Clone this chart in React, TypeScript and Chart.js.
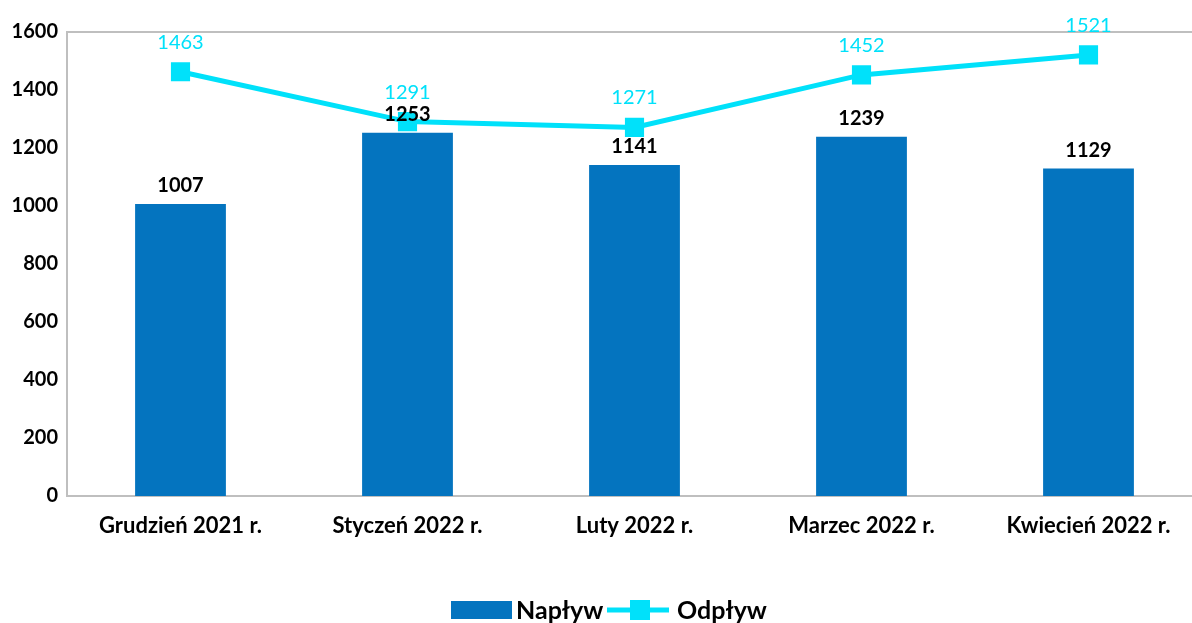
import React, { useEffect, useRef } from "react";
import { Chart, registerables } from "chart.js";

Chart.register(...registerables);

const categories = ["Grudzień 2021 r.", "Styczeń 2022 r.", "Luty 2022 r.", "Marzec 2022 r.", "Kwiecień 2022 r."];
const naplyw = [1007, 1253, 1141, 1239, 1129];
const odplyw = [1463, 1291, 1271, 1452, 1521];
const yTicks = [0, 200, 400, 600, 800, 1000, 1200, 1400, 1600];

const BAR = "#0474BF";
const LINE = "#00E1FA";
const FONT = "Lato, 'Noto Sans', sans-serif";

const labelsPlugin = {
  id: "customLabels",
  afterDraw(chart: any) {
    const ctx = chart.ctx;
    const area = chart.chartArea;
    ctx.save();
    // plot border (top line)
    ctx.strokeStyle = "#BFBFBF";
    ctx.lineWidth = 2;
    ctx.beginPath();
    ctx.moveTo(area.left, area.top);
    ctx.lineTo(area.right, area.top);
    ctx.stroke();

    ctx.textAlign = "center";
    ctx.textBaseline = "alphabetic";
    const barMeta = chart.getDatasetMeta(0);
    ctx.font = `bold 20px ${FONT}`;
    ctx.fillStyle = "#000000";
    barMeta.data.forEach((el: any, i: number) => {
      ctx.fillText(String(naplyw[i]), el.x, el.y - 12);
    });
    const lineMeta = chart.getDatasetMeta(1);
    ctx.font = `20px ${FONT}`;
    ctx.fillStyle = LINE;
    lineMeta.data.forEach((el: any, i: number) => {
      ctx.fillText(String(odplyw[i]), el.x, el.y - 23);
    });

    // legend
    const ly = 610;
    ctx.fillStyle = BAR;
    ctx.fillRect(451, ly - 9, 61, 18);
    ctx.font = `bold 25px ${FONT}`;
    ctx.fillStyle = "#000";
    ctx.textAlign = "left";
    ctx.textBaseline = "middle";
    ctx.fillText("Napływ", 516, ly + 1);
    ctx.strokeStyle = LINE;
    ctx.lineWidth = 5;
    ctx.beginPath();
    ctx.moveTo(607, ly);
    ctx.lineTo(669, ly);
    ctx.stroke();
    ctx.fillStyle = LINE;
    ctx.fillRect(630, ly - 10, 20, 20);
    ctx.fillStyle = "#000";
    ctx.fillText("Odpływ", 677, ly + 1);
    ctx.restore();
  },
};

export default function App() {
  const ref = useRef<HTMLCanvasElement>(null);
  useEffect(() => {
    if (!ref.current) return;
    const chart = new Chart(ref.current, {
      type: "bar",
      data: {
        labels: categories,
        datasets: [
          {
            type: "bar",
            label: "Napływ",
            data: naplyw,
            backgroundColor: BAR,
            barPercentage: 0.4,
            categoryPercentage: 1,
            order: 2,
          },
          {
            type: "line",
            label: "Odpływ",
            data: odplyw,
            borderColor: LINE,
            backgroundColor: LINE,
            borderWidth: 5,
            pointStyle: "rect",
            pointRadius: 10,
            pointHoverRadius: 10,
            tension: 0,
            order: 1,
          },
        ] as any,
      },
      options: {
        animation: false,
        responsive: false,
        maintainAspectRatio: false,
        layout: { autoPadding: false, padding: { top: 32, right: 0, left: 0, bottom: 0 } },
        plugins: { legend: { display: false }, tooltip: { enabled: false } },
        scales: {
          x: {
            grid: { display: false, drawTicks: false },
            border: { display: true, color: "#BFBFBF", width: 2 },
            ticks: {
              color: "#000",
              font: { family: FONT, size: 22, weight: "bold" },
              padding: 17,
            },
            afterFit(scale: any) {
              scale.height = 127;
            },
          },
          y: {
            min: 0,
            max: 1600,
            afterBuildTicks(scale: any) {
              scale.ticks = yTicks.map((v) => ({ value: v }));
            },
            grid: { display: false, drawTicks: false },
            border: { display: true, color: "#BFBFBF", width: 2 },
            ticks: {
              color: "#000",
              font: { family: FONT, size: 20, weight: "bold" },
              padding: 9,
              callback: (v: any) => String(v),
            },
            afterFit(scale: any) {
              scale.width = 67;
            },
          },
        },
      },
      plugins: [labelsPlugin],
    });
    return () => chart.destroy();
  }, []);
  return (
    <div style={{ position: "fixed", left: 0, top: 0, width: 1192, height: 623, overflow: "hidden", background: "#fff" }}>
      <canvas ref={ref} width={1202} height={623} style={{ width: 1202, height: 623, display: "block" }} />
    </div>
  );
}
